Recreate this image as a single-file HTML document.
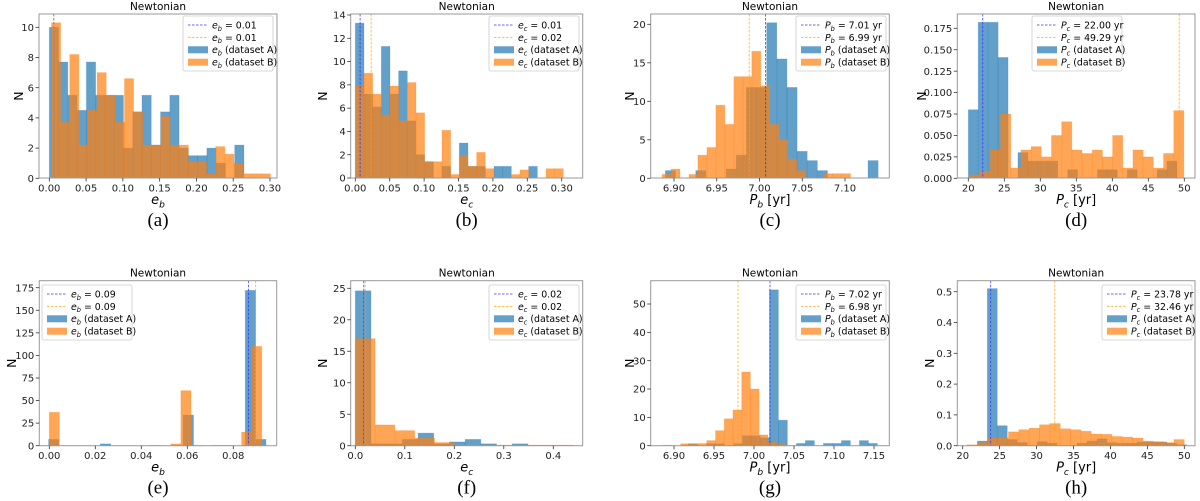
<!DOCTYPE html>
<html><head><meta charset="utf-8">
<style>
html,body{margin:0;padding:0;background:#fff;}
svg{display:block;font-family:"DejaVu Sans","Liberation Sans",sans-serif;}
</style></head>
<body>
<svg id="fig" width="1200" height="501" viewBox="0 0 1200 501" xmlns="http://www.w3.org/2000/svg"></svg>
<script>
// ---- data (bins: start, width, counts) ----
const aStartA=0, aWidthA=0.0126, aCountsA=[10,7.7,5.5,4.5,7.7,5.5,5.5,5.5,2,4.4,5.5,2.2,4.4,5.5,2,1.5,1.5,2,1,0,2.2,0];
const aStartB=0.003, aWidthB=0.0124, aCountsB=[10.3,3.7,8.2,2.2,4.5,7,5.5,3.7,6.6,4.4,2.2,2.2,4.1,2.2,2.2,1.1,1.1,0.3,2.1,1.6,1,0.3,0.3,0.3];
const aLines=[0.006,0.006];
const bStartA=0, bWidthA=0.0126, bCountsA=[13.3,7.2,6.1,11.3,7.2,9.2,4.9,2,1.4,0,1,0,3,1,1,0,1,1,0,0,1,0];
const bStartB=0, bWidthB=0.0126, bCountsB=[7.9,9,7.2,5.4,7.9,4.9,8.2,5.6,1.4,1.4,4.1,0.3,1.9,1,2.2,0.8,0,0,0.3,0.7,0,0,0.8,0.8];
const bLines=[0.007,0.023];
const cStartA=6.8899, cWidthA=0.01185, cCountsA=[1,0,0,1,0,0,1.2,3,11.8,11.8,20.2,15.5,11.8,3.5,2.3,1,0,0,0,0,2.3];
const cStartB=6.886, cWidthB=0.0105, cCountsB=[0.5,1.2,0,0.5,3,4,9.5,7,13.2,13.2,16.5,12,7,5,2.5,1,0,0,0.6,0.6,0.6];
const cLines=[7.007,6.988];
const dStartA=20, dWidthA=1.38, dCountsA=[0.08,0.182,0.182,0.141,0,0.03,0.02,0.02,0.02,0,0.01,0,0,0.01,0.01,0,0.01,0,0,0.01,0.02];
const dStartB=20.23, dWidthB=1.415, dCountsB=[0.004,0.008,0.033,0.075,0.012,0.033,0.037,0.025,0.05,0.066,0.033,0.029,0.033,0.025,0.05,0.012,0.033,0.025,0.012,0.029,0.079];
const dLines=[22.0,49.29];
const eStartA=-0.0003, eWidthA=0.0045, eCountsA=[7,0,0,0,0,2,0,0,0,0,0,0,0,34,0,0,0,0,0,172,7];
const eStartB=0, eWidthB=0.0044, eCountsB=[37,0,0,0,0,0,0,0,0,0,0.4,0,2,61,0.4,0,0.4,0.4,0,15,110];
const eLines=[0.0866,0.0897];
const fStartA=0, fWidthA=0.0317, fCountsA=[24.6,0.3,0.3,1,2,0.3,0.6,1,0.3,0,0.3];
const fStartB=0, fWidthB=0.04, fCountsB=[17,3.3,2.4,1.2,0.5,0.1,0.1,0.1,0.1,0.1,0.1];
const fLines=[0.017,0.02];
const gStartA=6.918, gWidthA=0.01125, gCountsA=[0.7,0,0.7,0.7,0,0.7,3.5,3.5,2.8,55,9,0,0.8,1.8,0,0.8,0.8,1.8,0,1.8,0.8];
const gStartB=6.8865, gWidthB=0.0109, gCountsB=[0.2,0,0.7,0.5,0.8,1.8,5.3,9.5,12.6,26,20,3.8,1.2,0.5];
const gLines=[7.02,6.98];
const hStartA=20.63, hWidthA=1.35, hCountsA=[0,0.015,0.51,0.065,0.02,0.01,0,0.013,0.008,0,0,0.008,0.015,0.022,0.01,0.008,0.008,0.012,0.012,0.012,0.008,0.003];
const hStartB=20.6, hWidthB=1.4, hCountsB=[0.003,0.01,0.025,0.025,0.045,0.052,0.057,0.068,0.072,0.055,0.052,0.047,0.038,0.037,0.03,0.028,0.025,0.015,0.013,0.01,0.02];
const hLines=[23.78,32.46];

const aXTicks=[0,0.05,0.10,0.15,0.20,0.25,0.30], aYTicks=[0,2,4,6,8,10];
const bXTicks=[0,0.05,0.10,0.15,0.20,0.25,0.30], bYTicks=[0,2,4,6,8,10,12,14];
const cXTicks=[6.90,6.95,7.00,7.05,7.10], cYTicks=[0,5,10,15,20];
const dXTicks=[20,25,30,35,40,45,50], dYTicks=[0,0.025,0.05,0.075,0.1,0.125,0.15,0.175];
const eXTicks=[0,0.02,0.04,0.06,0.08], eYTicks=[0,25,50,75,100,125,150,175];
const fXTicks=[0,0.1,0.2,0.3,0.4], fYTicks=[0,5,10,15,20,25];
const gXTicks=[6.90,6.95,7.00,7.05,7.10,7.15], gYTicks=[0,10,20,30,40,50];
const hXTicks=[20,25,30,35,40,45,50], hYTicks=[0,0.1,0.2,0.3,0.4,0.5];

const NS="http://www.w3.org/2000/svg";
const svg=document.getElementById('fig');
function mk(tag,attrs,parent){const e=document.createElementNS(NS,tag);for(const k in attrs)e.setAttribute(k,attrs[k]);(parent||svg).appendChild(e);return e;}
function label(parent,x,y,sym,sub,suffix,size,anchor){
  const t=mk('text',{x:x,y:y,'font-size':size,'text-anchor':anchor||'middle',fill:'#000'},parent);
  const s1=mk('tspan',{'font-style':'italic'},t);s1.textContent=sym;
  const s2=mk('tspan',{'font-style':'italic','font-size':size*0.7,dy:size*0.25},t);s2.textContent=sub;
  if(suffix){const s3=mk('tspan',{dy:-size*0.25},t);s3.textContent=suffix;}
  return t;
}
const BLUE='#1f77b4',ORANGE='#ff7f0e';

const panels=[
 {id:'a',box:[39,277,14,178],x:[49.3,0,270,0.30],y:[178.3,0,27.3,10],xt:aXTicks,yt:aYTicks,xf:2,yf:0,A:[aStartA,aWidthA,aCountsA],B:[aStartB,aWidthB,aCountsB],L:aLines,sym:'e',sub:'b',unit:'',vals:['0.01','0.01'],leg:[183,16],yl:19,let:'(a)'},
 {id:'b',box:[350.7,582.7,14,178],x:[355.3,0,561.7,0.30],y:[178,0,15,14],xt:bXTicks,yt:bYTicks,xf:2,yf:0,A:[bStartA,bWidthA,bCountsA],B:[bStartB,bWidthB,bCountsB],L:bLines,sym:'e',sub:'c',unit:'',vals:['0.01','0.02'],leg:[489,16],yl:323,let:'(b)'},
 {id:'c',box:[650.7,889.3,14,178],x:[674,6.90,845,7.10],y:[178.3,0,24.3,20],xt:cXTicks,yt:cYTicks,xf:2,yf:0,A:[cStartA,cWidthA,cCountsA],B:[cStartB,cWidthB,cCountsB],L:cLines,sym:'P',sub:'b',unit:' [yr]',vals:['7.01 yr','6.99 yr'],leg:[796,16],yl:630,let:'(c)'},
 {id:'d',box:[957.3,1195,14,178],x:[968.3,20,1184.3,50],y:[178.3,0,28.3,0.175],xt:dXTicks,yt:dYTicks,xf:0,yf:3,A:[dStartA,dWidthA,dCountsA],B:[dStartB,dWidthB,dCountsB],L:dLines,sym:'P',sub:'c',unit:' [yr]',vals:['22.00 yr','49.29 yr'],leg:[1032,16],yl:922,let:'(d)'},
 {id:'e',box:[39.3,276.7,280.7,445.7],x:[49.3,0,233.3,0.08],y:[445.7,0,287.7,175],xt:eXTicks,yt:eYTicks,xf:2,yf:0,A:[eStartA,eWidthA,eCountsA],B:[eStartB,eWidthB,eCountsB],L:eLines,sym:'e',sub:'b',unit:'',vals:['0.09','0.09'],leg:[42,285],yl:12,let:'(e)'},
 {id:'f',box:[350.7,582.7,280.7,445.7],x:[355.3,0,553.3,0.4],y:[445.7,0,288.3,25],xt:fXTicks,yt:fYTicks,xf:1,yf:0,A:[fStartA,fWidthA,fCountsA],B:[fStartB,fWidthB,fCountsB],L:fLines,sym:'e',sub:'c',unit:'',vals:['0.02','0.02'],leg:[489,285],yl:323,let:'(f)'},
 {id:'g',box:[650.7,889.3,280.7,445.7],x:[674,6.90,874,7.15],y:[445.7,0,304,50],xt:gXTicks,yt:gYTicks,xf:2,yf:0,A:[gStartA,gWidthA,gCountsA],B:[gStartB,gWidthB,gCountsB],L:gLines,sym:'P',sub:'b',unit:' [yr]',vals:['7.02 yr','6.98 yr'],leg:[796,285],yl:630,let:'(g)'},
 {id:'h',box:[957.3,1195,280.7,445.7],x:[962.7,20,1184.3,50],y:[445.7,0,291.7,0.5],xt:hXTicks,yt:hYTicks,xf:0,yf:1,A:[hStartA,hWidthA,hCountsA],B:[hStartB,hWidthB,hCountsB],L:hLines,sym:'P',sub:'c',unit:' [yr]',vals:['23.78 yr','32.46 yr'],leg:[1102,285],yl:930,let:'(h)'}
];

panels.forEach(p=>{
  const g=mk('g',{});
  
  
  const [l,r,t,b]=p.box;
  const X=v=>p.x[0]+(v-p.x[1])*(p.x[2]-p.x[0])/(p.x[3]-p.x[1]);
  const Y=v=>p.y[0]+(v-p.y[1])*(p.y[2]-p.y[0])/(p.y[3]-p.y[1]);
  const clipId='clip'+p.id;
  const cp=mk('clipPath',{id:clipId},g);mk('rect',{x:l,y:t,width:r-l,height:b-t},cp);
  const bars=mk('g',{'clip-path':'url(#'+clipId+')'},g);
  [['A',BLUE,p.A],['B',ORANGE,p.B]].forEach(([nm,col,s])=>{
    const [st,w,cnt]=s;
    cnt.forEach((c,i)=>{
      if(c<=0)return;
      const x0=X(st+i*w),x1=X(st+(i+1)*w),y1=Y(c),y0=Y(0);
      const rc=mk('rect',{x:x0,y:y1,width:x1-x0,height:y0-y1,fill:col,'fill-opacity':0.7,stroke:col,'stroke-opacity':0.25,'stroke-width':0.8},bars);
      
      
    });
  });
  p.L.forEach((v,i)=>{
    const ln=mk('line',{x1:X(v),x2:X(v),y1:t,y2:b,stroke:i?'#ffa500':'#3333ff','stroke-opacity':i?0.7:0.75,'stroke-width':1,'stroke-dasharray':'2.5,1.5'},bars);
    
    
  });
  const fr=mk('rect',{x:l,y:t,width:r-l,height:b-t,fill:'none',stroke:'#999','stroke-width':1},g);
  
  
  p.xt.forEach(v=>{
    const x=X(v);
    mk('line',{x1:x,x2:x,y1:b,y2:b+3.5,stroke:'#333','stroke-width':0.8},g);
    const tx=mk('text',{x:x,y:b+13.5,'font-size':10,'text-anchor':'middle',fill:'#222'},g);
    tx.textContent=v.toFixed(p.xf);
    
    
  });
  p.yt.forEach(v=>{
    const y=Y(v);
    mk('line',{x1:l-3.5,x2:l,y1:y,y2:y,stroke:'#333','stroke-width':0.8},g);
    const tx=mk('text',{x:l-5,y:y+3.6,'font-size':10,'text-anchor':'end',fill:'#222'},g);
    tx.textContent=v.toFixed(p.yf);
    
    
  });
  const ti=mk('text',{x:(l+r)/2,y:t-4,'font-size':10.5,'text-anchor':'middle',fill:'#000'},g);
  ti.textContent='Newtonian';
  
  
  const yl=mk('text',{x:p.yl+4,y:(t+b)/2,'font-size':12.5,'text-anchor':'middle',fill:'#000',transform:'rotate(-90 '+(p.yl+4)+' '+((t+b)/2)+')'},g);
  yl.textContent='N';
  
  
  const xl=label(g,(l+r)/2,b+26,p.sym,p.sub,p.unit,13);
  
  
  const lt=mk('text',{x:(l+r)/2,y:b+48,'font-size':19,'text-anchor':'middle','font-family':'Liberation Serif, serif',fill:'#000'},g);
  lt.textContent=p.let;
  
  
  // legend
  const [lx,ly]=p.leg;
  const lg=mk('g',{},g);
  
  
  mk('rect',{x:lx,y:ly,width:90,height:55,rx:2,fill:'#fff','fill-opacity':0.85,stroke:'#ccc','stroke-width':0.8},lg);
  const rows=[[ '#3333ff','line',' = '+p.vals[0]],['#ffa500','line',' = '+p.vals[1]],[BLUE,'patch',' (dataset A)'],[ORANGE,'patch',' (dataset B)']];
  rows.forEach((rw,i)=>{
    const cy=ly+9+i*12.4;
    if(rw[1]==='line'){
      mk('line',{x1:lx+5,x2:lx+25,y1:cy,y2:cy,stroke:rw[0],'stroke-opacity':0.75,'stroke-width':1,'stroke-dasharray':'2.5,1.5'},lg);
    } else {
      mk('rect',{x:lx+5,y:cy-3.5,width:20,height:7,fill:rw[0],'fill-opacity':0.7},lg);
    }
    const e=label(lg,lx+29,cy+3.4,p.sym,p.sub,rw[2],9.4,'start');
    
    
  });
});
</script>
</body></html>
